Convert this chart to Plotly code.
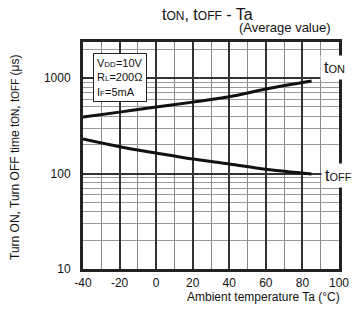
import plotly.graph_objects as go

temps = [-40, -20, 0, 20, 40, 60, 85]
t_on = [390, 440, 497, 560, 637, 767, 930]
t_off = [230, 191, 164, 142, 126, 111, 99]

x_ticks = [-40, -20, 0, 20, 40, 60, 80, 100]
y_ticks = [10, 100, 1000]
y_tick_text = ["10", "100", "1000"]

FONT = "Liberation Sans, Arial, sans-serif"
L, R, T, B = 83, 13, 42, 46

fig = go.Figure()
fig.add_trace(go.Scatter(x=temps, y=t_on, mode="lines", line=dict(color="#111", width=3, shape="spline"), showlegend=False))
fig.add_trace(go.Scatter(x=temps, y=t_off, mode="lines", line=dict(color="#111", width=3, shape="spline"), showlegend=False))

minor_y = [k * 10 ** d for d in (1, 2, 3) for k in range(2, 10)]

fig.update_layout(
    width=352, height=315,
    margin=dict(l=L, r=R, t=T, b=B, autoexpand=False),
    paper_bgcolor="white", plot_bgcolor="white",
    font=dict(family=FONT, size=12, color="#111"),
    xaxis=dict(
        range=[-40, 100], tickvals=x_ticks, ticktext=[str(v) for v in x_ticks],
        showgrid=True, gridcolor="#333", gridwidth=2, automargin=False,
        showline=True, linecolor="#222", linewidth=3, mirror=True,
        ticks="", ticklabelstandoff=1, zeroline=False,
        minor=dict(dtick=10, showgrid=True, gridcolor="#888", gridwidth=1),
    ),
    yaxis=dict(
        type="log", range=[1, 3.378], tickvals=y_ticks, ticktext=y_tick_text,
        showgrid=True, gridcolor="#333", gridwidth=2, automargin=False,
        showline=True, linecolor="#222", linewidth=3, mirror=True,
        ticks="", ticklabelstandoff=7, zeroline=False,
        minor=dict(tickvals=minor_y, showgrid=True, gridcolor="#999", gridwidth=1),
    ),
)

def px(xp):
    return (xp - L) / (352 - L - R)

def py(yp):
    return (315 - B - yp) / (315 - T - B)

sub = lambda s, n=11: f"<span style='font-size:{n}px'>{s}</span>"

anns = [
    dict(text="t" + sub("ON", 12) + ", t" + sub("OFF", 12) + " - Ta", x=px(207), y=py(15), font=dict(size=16)),
    dict(text="(Average value)", x=px(285), y=py(28), font=dict(size=13)),
    dict(text="Ambient temperature Ta (°C)", x=px(342), y=py(297), xanchor="right", font=dict(size=12)),
    dict(text="Turn ON, Turn OFF time t" + sub("ON", 10) + ", t" + sub("OFF", 10) + " (μs)",
         x=px(15), y=py(157), textangle=-90, font=dict(size=12)),
    dict(text="V" + sub("DD", 8) + "=10V<br>R" + sub("L", 8) + "=200Ω<br>I" + sub("F", 8) + "=5mA",
         x=px(93), y=py(53), xanchor="left", yanchor="top", align="left",
         bgcolor="white", bordercolor="#222", borderwidth=1, borderpad=3, font=dict(size=11)),
    dict(text="t" + sub("ON", 11), x=px(320), y=py(67), xanchor="left", bgcolor="white",
         borderpad=3, font=dict(size=16)),
    dict(text="t" + sub("OFF", 11), x=px(321), y=py(176), xanchor="left", bgcolor="white",
         borderpad=3, font=dict(size=16)),
]
for a in anns:
    a.setdefault("xanchor", "center")
    a.setdefault("yanchor", "middle")
    fig.add_annotation(xref="paper", yref="paper", showarrow=False, **a)

fig.write_html(
    "out.html",
    config={"displayModeBar": False},
    post_script="document.body.style.margin='0';document.body.style.overflow='hidden';",
)
